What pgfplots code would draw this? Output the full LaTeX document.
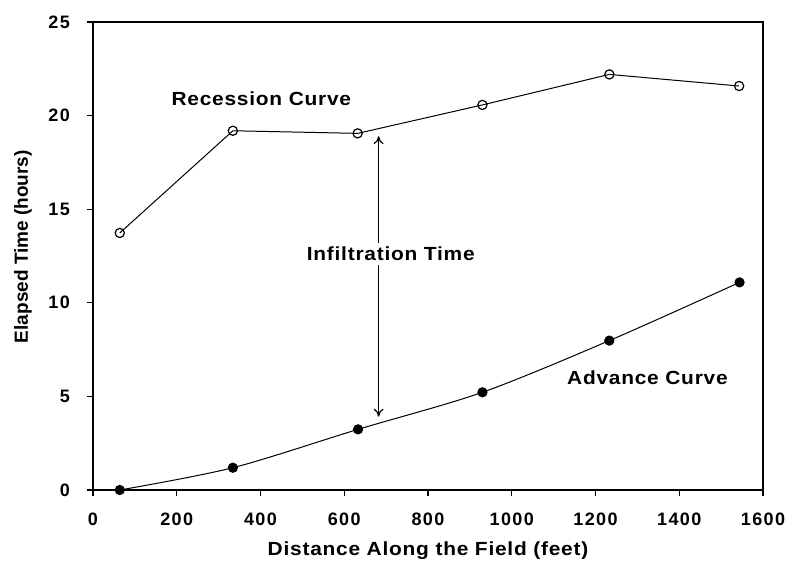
\documentclass[border=0pt]{standalone}
\usepackage{fontspec}
\setmainfont{Liberation Sans}
\newfontfamily\tickfont[LetterSpace=8]{Liberation Sans}
\newfontfamily\annfont[FakeStretch=1.1,LetterSpace=4]{Liberation Sans}
\usepackage{pgfplots}
\pgfplotsset{compat=1.18}
\usetikzlibrary{arrows.meta}
\begin{document}
\begin{tikzpicture}
\begin{axis}[
  scale only axis, width=335pt, height=234pt,
  xmin=0, xmax=1600, ymin=0, ymax=25,
  xtick={0,200,...,1600}, ytick={0,5,...,25},
  tick align=outside, tick pos=left,
  major tick length=3pt,
  axis line style={line width=0.9pt},
  tick style={black, line width=0.6pt},
  /pgf/number format/assume math mode=true,
  /pgf/number format/1000 sep={},
  ticklabel style={font=\tickfont\bfseries\fontsize{9}{10}\selectfont},
  xticklabel style={yshift=-5pt},
  yticklabel style={xshift=-5pt},
  xlabel={Distance Along the Field (feet)},
  ylabel={Elapsed Time (hours)},
  every axis x label/.style={at={(rel axis cs:0.5,0)},yshift=-30.5pt,anchor=center,font=\annfont\bfseries\fontsize{9.5}{11}\selectfont},
  every axis y label/.style={at={(rel axis cs:0,0.52)},xshift=-35pt,anchor=center,rotate=90,font=\bfseries\fontsize{9.5}{11}\selectfont},
  clip=false,
]
\addplot[black, line width=0.5pt, mark=o, mark size=2.3pt, mark options={fill=white, line width=0.6pt}]
  coordinates {(64,13.73) (334,19.19) (632,19.05) (930,20.57) (1233,22.2) (1543,21.58)};
\addplot[black, line width=0.5pt, smooth, mark=*, mark size=2.3pt, mark options={fill=black}]
  coordinates {(64,0) (334,1.19) (633,3.24) (930,5.22) (1233,7.98) (1544,11.09)};
\draw[{To[length=4pt,width=5pt]}-{To[length=4pt,width=5pt]}, line width=0.6pt] (axis cs:682,18.9) -- (axis cs:682,3.92);
\node[fill=white, inner sep=2pt, font=\annfont\bfseries\fontsize{9.5}{11}\selectfont] at (axis cs:711,12.6) {Infiltration Time};
\node[font=\annfont\bfseries\fontsize{9.5}{11}\selectfont] at (axis cs:402,20.9) {Recession Curve};
\node[font=\annfont\bfseries\fontsize{9.5}{11}\selectfont] at (axis cs:1324,5.98) {Advance Curve};
\coordinate (bl) at (rel axis cs:0,0);
\coordinate (tr) at (rel axis cs:1,1);
\end{axis}
\pgfresetboundingbox
\path ([shift={(-46.5pt,-43pt)}]bl) rectangle ([shift={(11.5pt,11pt)}]tr);
\end{tikzpicture}
\end{document}
